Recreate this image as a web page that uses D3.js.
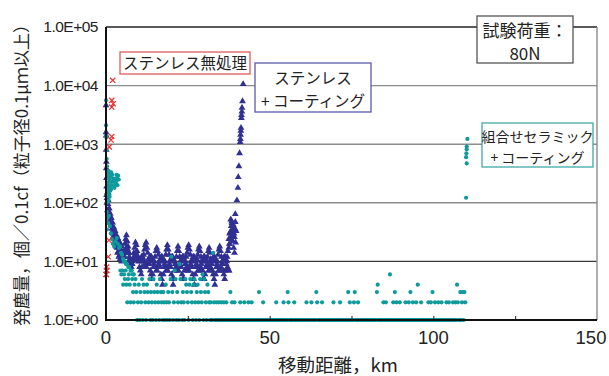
<!DOCTYPE html>
<html>
<head>
<meta charset="utf-8">
<script src="https://cdn.jsdelivr.net/npm/d3@7"></script>
<style>
  body { margin: 0; background: #fff; }
  text { font-family: "Liberation Sans", Arial, sans-serif; }
  .jp { font-family: "Noto Sans CJK JP", "Liberation Sans", sans-serif; }
</style>
</head>
<body>
<svg id="chart" width="609" height="376"></svg>
<script>
// ---- axes ----
const xTicks = [0, 50, 100, 150];
const xMinorTicks = [25, 50, 75, 100, 125];
const yTicks = [1, 10, 100, 1000, 10000, 100000];
const yTickLabels = ["1.0E+00", "1.0E+01", "1.0E+02", "1.0E+03", "1.0E+04", "1.0E+05"];

// ---- ステンレス無処理 : [km, count] ----
const untreated = [
  [0, 6], [0.1, 7], [0.2, 8], [0.1, 6], [0.3, 7], [0.7, 12], [0.9, 23],
  [1.0, 900], [1.55, 1180], [1.75, 1350], [1.75, 5600], [2.2, 4900], [1.75, 4300], [2.05, 12300]
];

// ---- ステンレス＋コーティング ----
// start of run, [km, count]
const coatedStart = [
  [0, 4600], [0, 1600], [0.05, 1400], [0.05, 800], [0.1, 500], [0.1, 390], [0.15, 265],
  [0.2, 190], [0.2, 135], [0.25, 100],
  [0.3, 120], [0.4, 150], [0.5, 75], [0.6, 95], [0.7, 110], [0.8, 60], [0.9, 70], [1.0, 80],
  [1.1, 50], [1.2, 45], [1.3, 65], [1.4, 58], [1.5, 42], [1.6, 55], [1.7, 40], [1.8, 36],
  [1.9, 32], [2.0, 46], [2.1, 38], [2.2, 30], [2.3, 27], [2.4, 38], [2.5, 30], [2.6, 24],
  [2.7, 22], [2.8, 33], [2.9, 26], [3.0, 20], [3.1, 18], [3.2, 28], [3.3, 22], [3.4, 17],
  [3.5, 14], [3.6, 25], [3.7, 20], [3.8, 15], [3.9, 12], [4.0, 22], [4.1, 17], [4.2, 13],
  [4.3, 11], [4.4, 20], [4.5, 16], [4.6, 12], [4.7, 10], [4.8, 18], [4.9, 14]
];
// steady running, one reading every 0.25 km from 5 km
const coatedBandStartKm = 5;
const coatedBandStepKm = 0.25;
const coatedBand = [
  10, 12, 15, 20, 24, 28, 22, 18, 14, 11, 9, 8, 9, 11, 14, 17, 21, 19, 15, 12,
  10, 8, 7, 6, 8, 10, 13, 16, 19, 21, 17, 14, 11, 9, 7, 6, 5, 6, 8, 10,
  12, 15, 17, 15, 13, 10, 8, 6, 5, 4, 6, 8, 10, 13, 16, 19, 16, 13, 10, 8,
  6, 5, 4, 5, 7, 9, 12, 15, 18, 15, 12, 10, 8, 6, 5, 5, 7, 9, 12, 14,
  17, 19, 16, 13, 10, 8, 6, 5, 4, 6, 8, 11, 13, 16, 18, 15, 12, 10, 7, 5,
  5, 6, 8, 10, 12, 15, 17, 14, 11, 9, 7, 6, 5, 4, 6, 8, 10, 13, 16, 18,
  15, 12, 9, 7, 6, 5, 7, 9, 12, 15, 17, 20
];
// second reading taken between the ones above (offset 0.125 km)
const coatedBandMidStartKm = 5.125;
const coatedBandMid = [
  14, 13, 12, 14, 16, 18, 16, 14, 12, 10, 9, 9, 10, 11, 12, 13, 14, 13, 12, 11,
  10, 10, 11, 12, 12, 11, 10, 9, 8, 8, 9, 10, 11, 12, 12, 12, 11, 10, 9, 8,
  8, 7, 7, 8, 9, 10, 11, 12, 12, 11, 10, 9, 8, 7, 7, 7, 8, 9, 10, 11,
  12, 12, 11, 10, 9, 8, 7, 7, 7, 8, 9, 10, 11, 12, 12, 11, 10, 9, 8, 7,
  7, 7, 8, 9, 10, 11, 12, 12, 11, 10, 9, 8, 7, 7, 7, 8, 9, 10, 11, 12,
  12, 11, 10, 9, 8, 7, 7, 8, 9, 10, 11, 12, 12, 11, 10, 9, 8, 7, 7, 7,
  8, 9, 10, 11, 12, 12, 11, 10, 8, 7, 7
];
// coating breakdown near 40 km, [km, count]
const coatedRise = [
  [37.5, 24], [37.75, 20], [37.75, 30], [38.0, 25], [38.0, 32], [38.1, 52], [38.25, 28],
  [38.25, 40], [38.4, 48], [38.5, 35], [38.5, 45], [38.6, 26], [38.75, 30], [38.75, 22],
  [38.9, 42], [39.0, 38], [39.0, 17], [39.1, 30], [39.25, 26], [39.25, 14], [39.4, 36],
  [39.5, 47], [39.5, 64], [39.6, 21], [39.75, 33], [40.0, 110], [40.3, 180], [40.4, 275],
  [40.6, 420], [40.8, 700], [41.0, 1090], [41.05, 1230], [41.1, 1450], [41.2, 1700],
  [41.25, 1900], [41.35, 2800], [41.4, 3150], [41.5, 3600], [41.55, 4200], [41.7, 5400],
  [41.9, 10600]
];

// ---- 組合せセラミック＋コーティング ----
const ceramicStart = [
  [0, 5600], [0, 2100], [0.1, 1400], [0.1, 1300], [0.2, 800], [0.2, 560], [0.3, 420],
  [0.5, 340], [0.7, 300], [1.0, 250], [1.3, 280], [1.6, 330], [1.9, 300], [2.2, 260],
  [2.5, 240], [2.8, 210], [3.1, 230], [3.4, 260], [3.7, 290], [3.9, 250], [0.6, 220],
  [0.9, 200], [1.2, 190], [1.5, 170], [1.1, 127], [0.6, 165], [0.4, 130], [0.5, 105],
  [0.2, 100], [0.8, 110], [0.4, 260], [0.8, 350], [1.1, 310], [1.4, 230], [1.7, 200],
  [2.0, 230], [2.3, 190], [2.6, 180], [2.9, 260], [3.2, 300], [3.5, 200], [0.3, 180],
  [0.6, 150], [1.0, 140], [1.3, 160], [0.2, 70], [0.4, 55], [0.7, 45], [0.3, 35],
  [0.9, 60], [1.2, 40], [1.5, 30], [1.8, 24], [2.1, 20], [2.5, 18], [2.9, 22], [3.3, 25],
  [3.6, 20], [4.0, 17], [4.3, 18], [4.6, 14], [4.9, 13], [5.2, 11], [5.5, 10], [5.8, 10],
  [6.1, 9], [6.4, 9], [6.8, 8], [7.1, 8], [7.5, 7], [7.8, 7], [8.2, 6], [8.5, 6],
  [4.4, 7], [4.7, 6]
];
// one reading every 0.25 km from 5 km
const ceramicRunStartKm = 5;
const ceramicRunStepKm = 0.25;
const ceramicRun = [
  7, 4, 6, 5, 7, 4, 2, 5, 6, 4, 2, 7, 5, 3, 2, 4, 5, 3, 1, 2,
  4, 1, 3, 2, 5, 1, 4, 3, 2, 1, 4, 3, 2, 5, 1, 3, 2, 1, 5, 3,
  2, 1, 4, 3, 2, 1, 5, 3, 2, 1, 3, 2, 1, 4, 2, 1, 3, 2, 1, 5,
  12, 3, 1, 2, 7, 5, 1, 3, 2, 1, 9, 5, 2, 1, 3, 2, 1, 5, 4, 3,
  2, 1, 4, 5, 3, 2, 1, 4, 5, 2, 1, 3, 4, 2, 1, 5, 3, 2, 6, 1,
  5, 3, 2, 1, 4, 3, 2, 1, 2, 1, 1, 14, 2, 1, 1, 2, 1, 1, 2, 1,
  1, 2, 1, 1, 2, 1, 1, 2, 1, 1, 1, 1, 3, 1, 2, 1, 1, 2, 1, 1,
  1, 1, 1, 1, 2, 1, 1, 1, 1, 2, 1, 1, 1, 1, 2, 1, 1, 1, 2, 1,
  1, 1, 1, 1, 1, 1, 1, 3, 1, 1, 1, 1, 2, 1, 1, 1, 1, 1, 1, 1,
  1, 1, 1, 1, 1, 1, 1, 1, 2, 1, 1, 1, 1, 1, 1, 1, 1, 2, 1, 1,
  1, 1, 3, 2, 1, 1, 1, 1, 1, 1, 2, 1, 1, 1, 1, 1, 1, 1, 1, 1,
  1, 1, 1, 1, 1, 2, 1, 1, 1, 1, 1, 2, 1, 1, 1, 1, 1, 3, 2, 1,
  1, 1, 1, 1, 2, 1, 1, 1, 1, 1, 1, 1, 1, 1, 1, 1, 1, 1, 2, 1,
  1, 1, 1, 1, 1, 1, 2, 1, 1, 1, 1, 1, 1, 1, 1, 1, 3, 1, 2, 1,
  1, 1, 1, 2, 3, 1, 1, 1, 2, 1, 1, 1, 1, 1, 1, 1, 1, 1, 1, 1,
  1, 1, 1, 1, 1, 1, 1, 1, 1, 1, 1, 3, 4, 1, 1, 1, 1, 1, 1, 2,
  1, 1, 2, 1, 1, 1, 1, 6, 1, 1, 1, 2, 1, 3, 1, 2, 1, 1, 1, 2,
  1, 1, 1, 1, 1, 1, 2, 1, 1, 1, 2, 1, 3, 1, 1, 2, 1, 1, 1, 2,
  1, 4, 1, 1, 1, 2, 1, 1, 1, 1, 1, 1, 1, 1, 2, 1, 1, 2, 1, 3,
  1, 1, 2, 1, 1, 1, 2, 1, 1, 1, 2, 1, 1, 1, 1, 1, 2, 1, 1, 2,
  1, 1, 1, 1, 2, 1, 1, 2, 1, 4, 2, 1, 1, 3, 1, 2, 3, 1, 3, 2
];
// jump at end of test, [km, count]
const ceramicEnd = [
  [110.4, 1230], [110.2, 910], [110.2, 820], [110.1, 700], [110.0, 600], [110.2, 470], [110.0, 122]
];

// ---- chart ----
const svg = d3.select("#chart");
const x = d3.scaleLinear().domain([0, 150]).range([106, 597]);
const y = d3.scaleLog().domain([1, 100000]).range([320, 27]);

const teal = "#0f9a9c";
const navy = "#2f2f94";
const red = "#ee3030";

// grid lines
svg.append("g").selectAll("line")
  .data(yTicks.filter(d => d > 1))
  .join("line")
  .attr("x1", x(0)).attr("x2", x(150))
  .attr("y1", d => y(d)).attr("y2", d => y(d))
  .attr("stroke", d => d === 10 ? "#3a3a3a" : (d === 100000 ? "#222" : "#8c8c8c"))
  .attr("stroke-width", 1.4);

// right frame
svg.append("line")
  .attr("x1", x(150)).attr("x2", x(150)).attr("y1", y(100000)).attr("y2", y(1))
  .attr("stroke", "#8c8c8c").attr("stroke-width", 1.4);

// expand series into points
const toPts = arr => arr.map(([k, v]) => ({ km: k, v }));
const runPts = (start, step, vals) => vals.map((v, i) => ({ km: start + i * step, v }));

const coatedPts = [
  ...toPts(coatedStart),
  ...runPts(coatedBandStartKm, coatedBandStepKm, coatedBand),
  ...runPts(coatedBandMidStartKm, coatedBandStepKm, coatedBandMid),
  ...toPts(coatedRise)
];
const ceramicPts = [
  ...toPts(ceramicStart),
  ...runPts(ceramicRunStartKm, ceramicRunStepKm, ceramicRun),
  ...toPts(ceramicEnd)
];
const untreatedPts = toPts(untreated);

// stainless + coating: triangles
const tri = d3.symbol().type(d3.symbolTriangle).size(20);
svg.append("g").selectAll("path")
  .data(coatedPts)
  .join("path")
  .attr("d", tri)
  .attr("transform", d => `translate(${x(d.km)},${y(d.v)})`)
  .attr("fill", navy);

// ceramic + coating: dots
svg.append("g").selectAll("circle")
  .data(ceramicPts)
  .join("circle")
  .attr("cx", d => x(d.km)).attr("cy", d => y(d.v))
  .attr("r", 2.1)
  .attr("fill", teal);

// untreated stainless: crosses
svg.append("g").selectAll("path")
  .data(untreatedPts)
  .join("path")
  .attr("d", "M-2.6,-2.6L2.6,2.6M-2.6,2.6L2.6,-2.6")
  .attr("transform", d => `translate(${x(d.km)},${y(d.v)})`)
  .attr("stroke", red).attr("stroke-width", 1.2).attr("fill", "none");

// axes
const gy = svg.append("g").attr("transform", `translate(${x(0)},0)`)
  .call(d3.axisLeft(y).tickValues(yTicks).tickFormat((d, i) => yTickLabels[i]).tickSize(0).tickPadding(8));
gy.select(".domain").remove();
gy.selectAll("text").attr("font-size", 15.5).attr("fill", "#222")
  .attr("font-family", "'Liberation Sans', Arial, sans-serif").attr("letter-spacing", "-0.5");

const gx = svg.append("g").attr("transform", `translate(0,${y(1)})`)
  .call(d3.axisBottom(x).tickValues(xMinorTicks).tickSize(-4).tickFormat(""));
gx.select(".domain").remove();
gx.selectAll("line").attr("stroke", "#222");

svg.append("g").selectAll("text")
  .data(xTicks)
  .join("text")
  .attr("x", d => Math.min(x(d), 591))
  .attr("y", 344)
  .attr("text-anchor", "middle")
  .attr("font-size", 18.5)
  .attr("fill", "#222")
  .text(d => d);

svg.append("line").attr("x1", x(0)).attr("x2", x(0)).attr("y1", y(100000)).attr("y2", y(1) + 1)
  .attr("stroke", "#111").attr("stroke-width", 2);
svg.append("line").attr("x1", x(0) - 1).attr("x2", x(150)).attr("y1", y(1)).attr("y2", y(1))
  .attr("stroke", "#111").attr("stroke-width", 2);

// axis titles
svg.append("text").attr("class", "jp")
  .attr("x", 338).attr("y", 372)
  .attr("text-anchor", "middle").attr("font-size", 18.5).attr("fill", "#222")
  .text("移動距離，km");

svg.append("text").attr("class", "jp")
  .attr("transform", "translate(28,171) rotate(-90)")
  .attr("text-anchor", "middle").attr("font-size", 17).attr("fill", "#222")
  .text("発塵量，個／0.1cf（粒子径0.1μｍ以上）");

// annotation boxes
function note(bx, by, bw, bh, stroke, lines, size, baselines) {
  svg.append("rect").attr("x", bx).attr("y", by).attr("width", bw).attr("height", bh)
    .attr("fill", "#fff").attr("stroke", stroke).attr("stroke-width", 1.3);
  lines.forEach((t, i) => {
    svg.append("text").attr("class", "jp")
      .attr("x", bx + bw / 2).attr("y", baselines[i])
      .attr("text-anchor", "middle").attr("font-size", size).attr("fill", "#222")
      .text(t);
  });
}
note(120, 52, 130, 22, "#e25a5a", ["ステンレス無処理"], 15.5, [69]);
note(255, 63, 116, 49, "#5a5aa8", ["ステンレス", "+ コーティング"], 15.5, [84, 107]);
note(477, 16, 96, 47, "#555", ["試験荷重：", "80N"], 17, [37, 60]);
note(482, 123, 111, 44, "#40a8a8", ["組合せセラミック", "+ コーティング"], 14, [142, 163]);
</script>
</body>
</html>
